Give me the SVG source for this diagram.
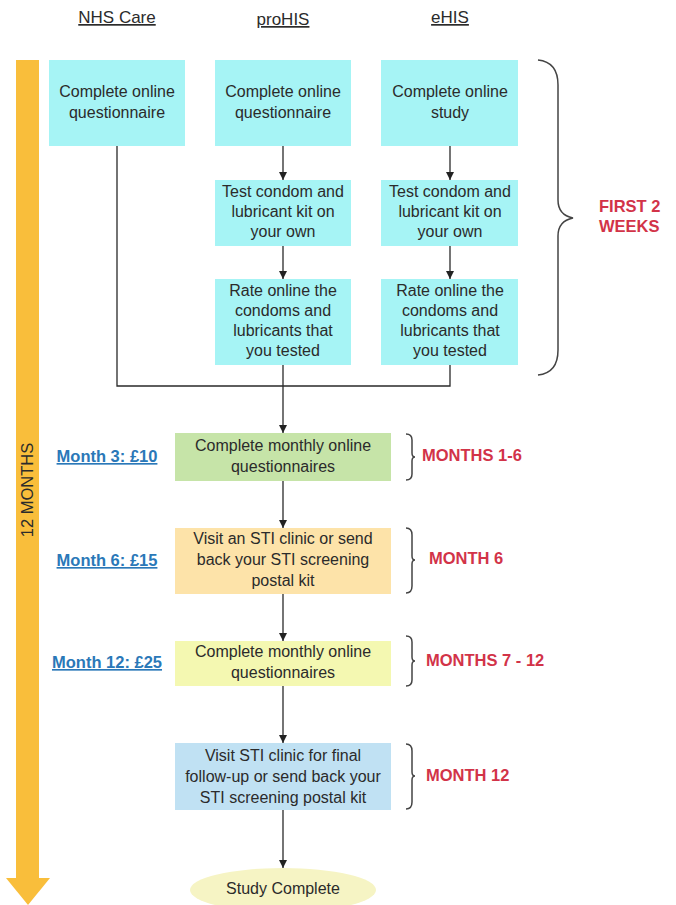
<svg xmlns="http://www.w3.org/2000/svg" width="676" height="905" viewBox="0 0 676 905">
<defs>
<marker id="ah" viewBox="0 0 10 10" refX="10" refY="5" markerWidth="8" markerHeight="8" markerUnits="userSpaceOnUse" orient="auto"><path d="M0,0 L10,5 L0,10 Z" fill="#222"/></marker>
<style>
text{font-family:"Liberation Sans",Arial,sans-serif;fill:#2b2b2b}
.t{font-size:16px;text-anchor:middle}
.h{font-size:17px;text-anchor:middle;text-decoration:underline}
.red{font-size:16.5px;font-weight:bold;fill:#d23348}
.lnk{font-size:16.5px;font-weight:bold;fill:#2a78b8;text-anchor:middle;text-decoration:underline}
.cy{fill:#a6f4f5}
.ln{fill:none;stroke:#2a2a2a;stroke-width:1.3}
.br{fill:none;stroke:#444;stroke-width:1.5}
</style>
</defs>
<rect width="676" height="905" fill="#fff"/>
<g id="timeline">
<rect x="16" y="60" width="23" height="820" fill="#f9be3b"/>
<path d="M6,878 L50,878 L28,905 Z" fill="#f9be3b"/>
<text transform="translate(33,490) rotate(-90)" style="font-size:16.5px;text-anchor:middle">12 MONTHS</text>
</g>
<g id="headers">
<text class="h" x="117" y="23">NHS Care</text>
<text class="h" x="283" y="25">proHIS</text>
<text class="h" x="450" y="23">eHIS</text>
</g>
<g id="connectors">
<polyline class="ln" points="117,146 117,386 450,386 450,365"/>
<line class="ln" x1="283" y1="365" x2="283" y2="433" marker-end="url(#ah)"/>
<line class="ln" x1="283" y1="146" x2="283" y2="180" marker-end="url(#ah)"/>
<line class="ln" x1="283" y1="246" x2="283" y2="279" marker-end="url(#ah)"/>
<line class="ln" x1="450" y1="146" x2="450" y2="180" marker-end="url(#ah)"/>
<line class="ln" x1="450" y1="246" x2="450" y2="279" marker-end="url(#ah)"/>
<line class="ln" x1="283" y1="481" x2="283" y2="528" marker-end="url(#ah)"/>
<line class="ln" x1="283" y1="594" x2="283" y2="641" marker-end="url(#ah)"/>
<line class="ln" x1="283" y1="686" x2="283" y2="743" marker-end="url(#ah)"/>
<line class="ln" x1="283" y1="810" x2="283" y2="868" marker-end="url(#ah)"/>
</g>
<g id="nhs-q">
<rect class="cy" x="49" y="60" width="136" height="86"/>
<text class="t" x="117" y="97">Complete online</text>
<text class="t" x="117" y="118">questionnaire</text>
</g>
<g id="pro-q">
<rect class="cy" x="215" y="60" width="136" height="86"/>
<text class="t" x="283" y="97">Complete online</text>
<text class="t" x="283" y="118">questionnaire</text>
</g>
<g id="ehis-q">
<rect class="cy" x="381" y="60" width="137" height="86"/>
<text class="t" x="450" y="97">Complete online</text>
<text class="t" x="450" y="118">study</text>
</g>
<g id="pro-test">
<rect class="cy" x="215" y="180" width="136" height="66"/>
<text class="t" x="283" y="197">Test condom and</text>
<text class="t" x="283" y="217">lubricant kit on</text>
<text class="t" x="283" y="237">your own</text>
</g>
<g id="ehis-test">
<rect class="cy" x="381" y="180" width="137" height="66"/>
<text class="t" x="450" y="197">Test condom and</text>
<text class="t" x="450" y="217">lubricant kit on</text>
<text class="t" x="450" y="237">your own</text>
</g>
<g id="pro-rate">
<rect class="cy" x="215" y="279" width="136" height="86"/>
<text class="t" x="283" y="296">Rate online the</text>
<text class="t" x="283" y="316">condoms and</text>
<text class="t" x="283" y="336">lubricants that</text>
<text class="t" x="283" y="356">you tested</text>
</g>
<g id="ehis-rate">
<rect class="cy" x="381" y="279" width="137" height="86"/>
<text class="t" x="450" y="296">Rate online the</text>
<text class="t" x="450" y="316">condoms and</text>
<text class="t" x="450" y="336">lubricants that</text>
<text class="t" x="450" y="356">you tested</text>
</g>
<g id="first-weeks">
<path class="br" d="M538,60 Q558,62 558,85 L558,200 Q558,215 573,218 Q558,221 558,236 L558,350 Q558,373 538,375"/>
<text class="red" x="599" y="212">FIRST 2</text>
<text class="red" x="599" y="232">WEEKS</text>
</g>
<g id="month3">
<rect x="175" y="433" width="216" height="48" fill="#c6e4a8"/>
<text class="t" x="283" y="451">Complete monthly online</text>
<text class="t" x="283" y="472">questionnaires</text>
<text class="lnk" x="107" y="462">Month 3: £10</text>
<path class="br" d="M406,434 Q412,434 412,440 L412,453 Q412,457 415,457 Q412,457 412,461 L412,474 Q412,480 406,480"/>
<text class="red" x="422" y="461">MONTHS 1-6</text>
</g>
<g id="month6">
<rect x="175" y="528" width="216" height="66" fill="#fde3a9"/>
<text class="t" x="283" y="544">Visit an STI clinic or send</text>
<text class="t" x="283" y="565">back your STI screening</text>
<text class="t" x="283" y="586">postal kit</text>
<text class="lnk" x="107" y="566">Month 6: £15</text>
<path class="br" d="M406,528 Q412,528 412,535 L412,556 Q412,560 415,560 Q412,560 412,564 L412,586 Q412,593 406,593"/>
<text class="red" x="429" y="564">MONTH 6</text>
</g>
<g id="month12">
<rect x="175" y="641" width="216" height="45" fill="#f4f8b1"/>
<text class="t" x="283" y="657">Complete monthly online</text>
<text class="t" x="283" y="678">questionnaires</text>
<text class="lnk" x="107" y="668">Month 12: £25</text>
<path class="br" d="M406,636 Q412,636 412,642 L412,657 Q412,661 415,661 Q412,661 412,665 L412,680 Q412,686 406,686"/>
<text class="red" x="426" y="666">MONTHS 7 - 12</text>
</g>
<g id="final">
<rect x="175" y="743" width="216" height="67" fill="#c0e1f3"/>
<text class="t" x="283" y="761">Visit STI clinic for final</text>
<text class="t" x="283" y="782">follow-up or send back your</text>
<text class="t" x="283" y="803">STI screening postal kit</text>
<path class="br" d="M406,744 Q412,744 412,751 L412,772 Q412,776 415,776 Q412,776 412,780 L412,802 Q412,809 406,809"/>
<text class="red" x="426" y="781">MONTH 12</text>
</g>
<g id="complete">
<ellipse cx="283" cy="890" rx="93" ry="22" fill="#f6f4c4"/>
<text class="t" x="283" y="894">Study Complete</text>
</g>
</svg>
